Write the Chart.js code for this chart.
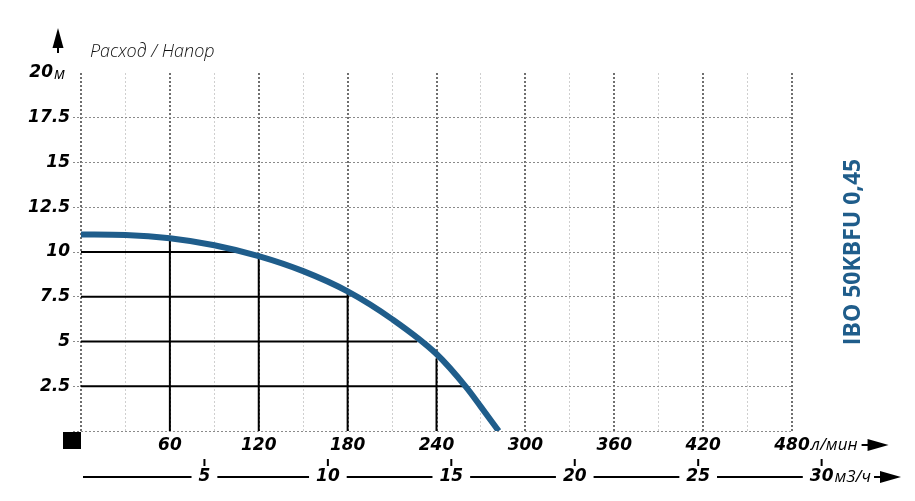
<!DOCTYPE html>
<html>
<head>
<meta charset="utf-8">
<script src="https://cdn.jsdelivr.net/npm/chart.js@4.4.0/dist/chart.umd.min.js"></script>
<style>
  html, body { margin: 0; padding: 0; background: #fff; }
  canvas { display: block; }
</style>
</head>
<body>
<canvas id="pumpChart" width="915" height="501"></canvas>
<script>
// pump curve, flow in l/min, head in m
const flowLpm = [0, 30, 60, 90, 120, 150, 180, 210, 240, 260, 270, 282];
const headM = [10.98, 10.95, 10.77, 10.38, 9.77, 8.93, 7.8, 6.25, 4.3, 2.45, 1.35, 0];

// black reference lines under the curve
const dropFlow = [60, 120, 180, 240];
const dropFlowHead = [10.7, 9.7, 7.75, 4.05];
const dropHead = [10, 7.5, 5, 2.5];
const dropHeadFlow = [104, 181, 227, 258];

// second flow axis, m3/h
const m3hTicks = [5, 10, 15, 20, 25, 30];

const NUM_FONT = '"DejaVu Sans", sans-serif';
const TXT_FONT = '"Open Sans", "DejaVu Sans", sans-serif';
const BLUE = '#1f5d8b';

const curveData = flowLpm.map((q, i) => ({ x: q, y: headM[i] }));

const dropSets = [
  ...dropFlow.map((q, i) => ({ data: [{ x: q, y: 0 }, { x: q, y: dropFlowHead[i] }] })),
  ...dropHead.map((h, i) => ({ data: [{ x: 0, y: h }, { x: dropHeadFlow[i], y: h }] }))
].map(d => ({
  ...d,
  borderColor: '#000',
  borderWidth: 2,
  pointRadius: 0,
  tension: 0,
  order: 2,
  clip: false
}));

function drawArrow(ctx, x0, yc) {
  ctx.fillStyle = '#000';
  ctx.fillRect(x0, yc - 1, 10, 2);
  ctx.beginPath();
  ctx.moveTo(x0 + 6, yc - 6);
  ctx.lineTo(x0 + 27, yc);
  ctx.lineTo(x0 + 6, yc + 6);
  ctx.closePath();
  ctx.fill();
}

const extras = {
  id: 'extras',
  afterDraw(chart) {
    const { ctx, scales: { x, y } } = chart;
    ctx.save();
    ctx.fillStyle = '#000';

    // up arrow of the head axis
    ctx.beginPath();
    ctx.moveTo(58, 28);
    ctx.lineTo(63.5, 48);
    ctx.lineTo(52.5, 48);
    ctx.closePath();
    ctx.fill();
    ctx.fillRect(57, 47, 2, 6);

    // axis title
    ctx.font = 'italic 300 18px ' + TXT_FONT;
    ctx.fillStyle = '#111';
    ctx.textAlign = 'left';
    ctx.textBaseline = 'alphabetic';
    ctx.fillText('Расход / Напор', 90, 57);

    // top head label with unit
    const y20 = y.getPixelForValue(20);
    ctx.fillStyle = '#000';
    ctx.textBaseline = 'middle';
    ctx.textAlign = 'right';
    ctx.font = 'italic bold 17px ' + NUM_FONT;
    ctx.fillText('20', 53, y20);
    ctx.textAlign = 'left';
    ctx.font = 'italic 16px ' + TXT_FONT;
    ctx.fillText('м', 54, y20 + 1);

    // black square at the origin
    ctx.fillRect(63, 432, 18, 17);

    // unit of the l/min axis
    const yl = 445;
    ctx.font = 'italic bold 17px ' + NUM_FONT;
    const w480 = ctx.measureText('480').width;
    const ux = x.getPixelForValue(480) + w480 / 2 + 1;
    ctx.font = 'italic 17px ' + TXT_FONT;
    ctx.fillText('л/мин', ux, yl);
    drawArrow(ctx, Math.max(860, ux + ctx.measureText('л/мин').width + 4), yl);

    // m3/h axis
    const ym = 477;
    ctx.font = 'italic bold 17px ' + NUM_FONT;
    ctx.textAlign = 'center';
    let lineStart = 83;
    m3hTicks.forEach(v => {
      const px = x.getPixelForValue(v * 1000 / 60);
      const w = ctx.measureText(String(v)).width;
      ctx.fillRect(lineStart, ym - 1, px - w / 2 - 7 - lineStart, 2);
      ctx.fillRect(px - 1, 459, 2, 7);
      ctx.fillText(String(v), px, ym);
      lineStart = px + w / 2 + 7;
    });
    const last = m3hTicks[m3hTicks.length - 1];
    const lpx = x.getPixelForValue(last * 1000 / 60) + ctx.measureText(String(last)).width / 2 + 1;
    ctx.textAlign = 'left';
    ctx.font = 'italic 17px ' + TXT_FONT;
    ctx.fillText('м3/ч', lpx, ym);
    drawArrow(ctx, Math.max(860, lpx + ctx.measureText('м3/ч').width + 3), ym);

    // model name
    ctx.translate(853, 252);
    ctx.rotate(-Math.PI / 2);
    ctx.fillStyle = BLUE;
    ctx.textAlign = 'center';
    ctx.textBaseline = 'middle';
    ctx.font = 'bold 23px ' + TXT_FONT;
    ctx.fillText('IBO 50KBFU 0,45', 0, 0);
    ctx.restore();
  }
};

new Chart(document.getElementById('pumpChart').getContext('2d'), {
  type: 'line',
  data: {
    datasets: [
      {
        data: curveData,
        borderColor: BLUE,
        borderWidth: 6,
        pointRadius: 0,
        cubicInterpolationMode: 'monotone',
        borderCapStyle: 'butt',
        order: 1,
        clip: { left: 0, top: 5, right: 5, bottom: 0 }
      },
      ...dropSets
    ]
  },
  options: {
    responsive: false,
    animation: false,
    events: [],
    layout: { padding: { top: 73, right: 123, bottom: 0, left: 0 } },
    plugins: { legend: { display: false }, tooltip: { enabled: false } },
    scales: {
      x: {
        type: 'linear',
        min: 0,
        max: 480,
        afterFit: s => { s.height = 70; },
        border: { display: false, dash: [2, 2] },
        grid: {
          color: c => (c.tick.value % 60 === 0 ? '#6f6f6f' : '#cfcfcf'),
          lineWidth: c => (c.tick.value % 60 === 0 ? 2 : 1),
          tickLength: 0
        },
        ticks: {
          stepSize: 30,
          autoSkip: false,
          maxRotation: 0,
          padding: 4,
          color: '#000',
          font: { family: NUM_FONT, size: 17, weight: 'bold', style: 'italic' },
          callback: v => (v > 0 && v % 60 === 0 ? String(v) : '')
        }
      },
      y: {
        type: 'linear',
        min: 0,
        max: 20,
        afterFit: s => { s.width = 81; },
        border: { display: false, dash: [2, 2] },
        grid: {
          color: c => (c.tick.value === 20 ? 'rgba(0,0,0,0)' : '#8a8a8a'),
          lineWidth: 1,
          tickLength: 8,
          tickBorderDash: [2, 2]
        },
        ticks: {
          stepSize: 2.5,
          padding: 3,
          color: '#000',
          font: { family: NUM_FONT, size: 17, weight: 'bold', style: 'italic' },
          callback: v => (v === 0 || v === 20 ? '' : String(v))
        }
      }
    }
  },
  plugins: [extras]
});
</script>
</body>
</html>
